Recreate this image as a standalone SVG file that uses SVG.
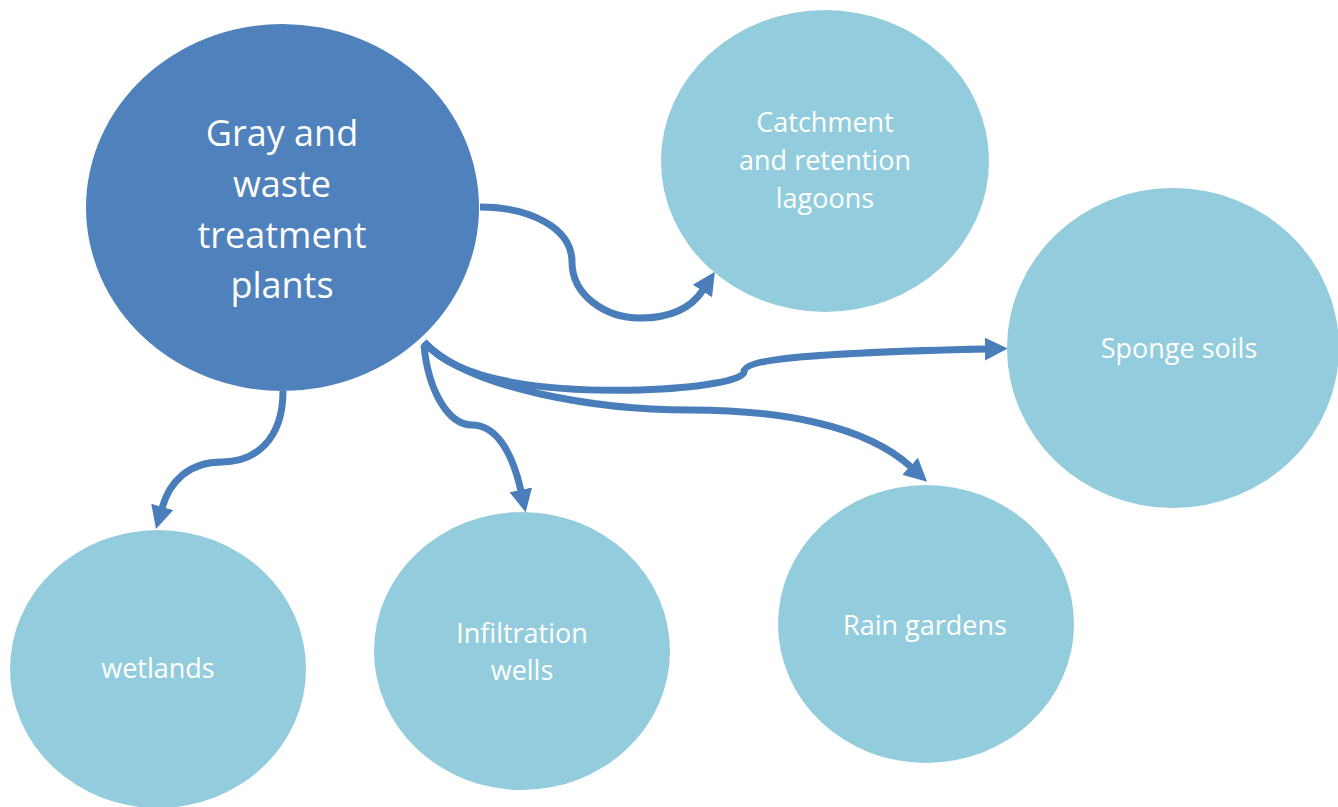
<svg xmlns="http://www.w3.org/2000/svg" width="1338" height="807" viewBox="0 0 1338 807">
<style>
.main{fill:#4F81BD}
.leaf{fill:#93CDDD}
.t{font-family:"Open Sans","Liberation Sans",sans-serif;fill:#FFFFFF;text-anchor:middle}
.big{font-size:36px}
.sm{font-size:27px}
.c{fill:none;stroke:#4A7EBB;stroke-width:7;stroke-linecap:butt}
</style>
<defs>
<marker id="ah" viewBox="0 0 10 10" refX="0.5" refY="5" markerUnits="userSpaceOnUse" markerWidth="23" markerHeight="24" orient="auto">
<path d="M0,0 L10,5 L0,10 z" fill="#4A7EBB"/>
</marker>
</defs>
<rect width="1338" height="807" fill="#FFFFFF"/>
<g id="connectors">
<path class="c" marker-end="url(#ah)" d="M480,207 C530,207 572,228 572,262 C572,295 605,318 640,318 C668,318 690,310 703,290"/>
<path class="c" marker-end="url(#ah)" d="M424,342 C460,385 560,392 640,390 C700,388 744,380 744,372 C744,360 800,353 986,349"/>
<path class="c" marker-end="url(#ah)" d="M424,342 C470,390 600,410 690,410 C780,410 865,425 911,467"/>
<path class="c" marker-end="url(#ah)" d="M424,345 C428,390 448,425 472,425 C495,425 512,450 521,491"/>
<path class="c" marker-end="url(#ah)" d="M283,391 C283,440 255,462 222,462 C190,462 170,480 162,508"/>
</g>
<g id="node-main">
<ellipse class="main" cx="282.5" cy="207.5" rx="196.5" ry="183.5"/>
<text class="t big" x="282" y="146">Gray and</text>
<text class="t big" x="282" y="197">waste</text>
<text class="t big" x="282" y="248">treatment</text>
<text class="t big" x="282" y="298">plants</text>
</g>
<g id="node-catchment">
<ellipse class="leaf" cx="825" cy="161" rx="164" ry="151"/>
<text class="t sm" x="825" y="132">Catchment</text>
<text class="t sm" x="825" y="170">and retention</text>
<text class="t sm" x="825" y="208">lagoons</text>
</g>
<g id="node-sponge">
<ellipse class="leaf" cx="1173" cy="348" rx="166" ry="160"/>
<text class="t sm" x="1179" y="358">Sponge soils</text>
</g>
<g id="node-rain">
<ellipse class="leaf" cx="926" cy="624" rx="148" ry="139"/>
<text class="t sm" x="925" y="635">Rain gardens</text>
</g>
<g id="node-infiltration">
<ellipse class="leaf" cx="522" cy="651" rx="148" ry="139"/>
<text class="t sm" x="522" y="643">Infiltration</text>
<text class="t sm" x="522" y="680">wells</text>
</g>
<g id="node-wetlands">
<ellipse class="leaf" cx="158" cy="669" rx="148" ry="139"/>
<text class="t sm" x="158" y="678">wetlands</text>
</g>
</svg>
